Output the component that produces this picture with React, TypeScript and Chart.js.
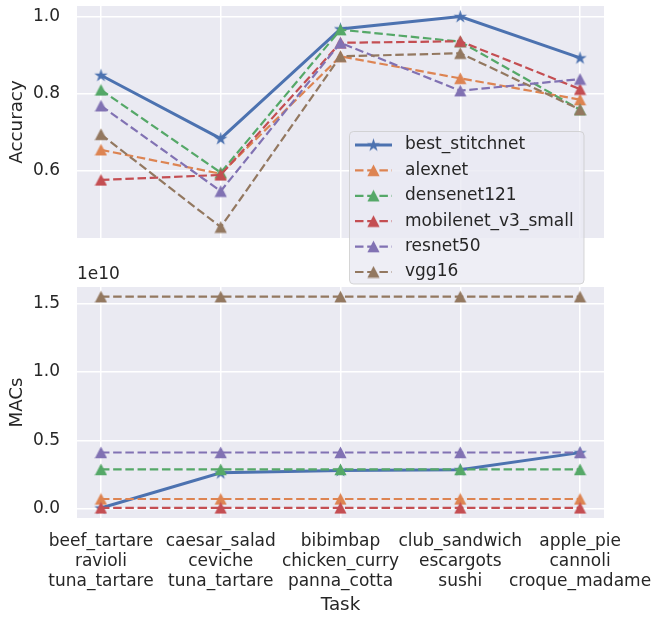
import React, { useEffect, useRef } from "react";
import { Chart, registerables } from "chart.js";

Chart.register(...registerables);

// ---------- data ----------
const seriesNames = ["best_stitchnet", "alexnet", "densenet121", "mobilenet_v3_small", "resnet50", "vgg16"];
const seriesColors = ["#4C72B0", "#DD8452", "#55A868", "#C44E52", "#8172B3", "#937860"];

const taskLabels = [
  ["beef_tartare", "ravioli", "tuna_tartare"],
  ["caesar_salad", "ceviche", "tuna_tartare"],
  ["bibimbap", "chicken_curry", "panna_cotta"],
  ["club_sandwich", "escargots", "sushi"],
  ["apple_pie", "cannoli", "croque_madame"],
];

const accBestStitchnet = [0.848, 0.684, 0.968, 1.0, 0.893];
const accAlexnet = [0.655, 0.593, 0.897, 0.840, 0.785];
const accDensenet121 = [0.810, 0.596, 0.966, 0.935, 0.759];
const accMobilenetV3Small = [0.577, 0.590, 0.932, 0.936, 0.812];
const accResnet50 = [0.769, 0.548, 0.932, 0.808, 0.838];
const accVgg16 = [0.695, 0.455, 0.897, 0.905, 0.759];

const macsBestStitchnet = [0.05e9, 2.62e9, 2.8e9, 2.85e9, 4.1e9];
const macsAlexnet = [0.71e9, 0.71e9, 0.71e9, 0.71e9, 0.71e9];
const macsDensenet121 = [2.87e9, 2.87e9, 2.87e9, 2.87e9, 2.87e9];
const macsMobilenetV3Small = [0.06e9, 0.06e9, 0.06e9, 0.06e9, 0.06e9];
const macsResnet50 = [4.11e9, 4.11e9, 4.11e9, 4.11e9, 4.11e9];
const macsVgg16 = [15.5e9, 15.5e9, 15.5e9, 15.5e9, 15.5e9];

const accTicks = [0.6, 0.8, 1.0];
const macsTicks = [0, 0.5e10, 1.0e10, 1.5e10];
const macsOffsetText = "1e10";

// ---------- style ----------
const FONT = "DejaVu Sans";
const TEXT = "#262626";
const BG = "#EAEAF2";

function makeTriangle(color: string) {
  const c = document.createElement("canvas");
  c.width = 13;
  c.height = 13;
  const g = c.getContext("2d")!;
  g.fillStyle = color;
  g.beginPath();
  g.moveTo(6.5, 0.6);
  g.lineTo(12.6, 12.2);
  g.lineTo(0.4, 12.2);
  g.closePath();
  g.fill();
  return c;
}

function makeStar(color: string) {
  const c = document.createElement("canvas");
  c.width = 15;
  c.height = 15;
  const g = c.getContext("2d")!;
  g.fillStyle = color;
  g.beginPath();
  const R = 7;
  const r = R * 0.382;
  for (let k = 0; k < 10; k++) {
    const a = -Math.PI / 2 + (k * Math.PI) / 5;
    const rad = k % 2 === 0 ? R : r;
    const x = 7.5 + Math.cos(a) * rad;
    const y = 7.8 + Math.sin(a) * rad;
    if (k === 0) g.moveTo(x, y);
    else g.lineTo(x, y);
  }
  g.closePath();
  g.fill();
  return c;
}

const bgPlugin = {
  id: "bgArea",
  beforeDraw(chart: any) {
    const { ctx, chartArea: a } = chart;
    ctx.save();
    ctx.fillStyle = BG;
    ctx.fillRect(a.left, a.top, a.right - a.left, a.bottom - a.top);
    ctx.restore();
  },
};

function zeroPadding(s: any) {
  s.paddingTop = 0;
  s.paddingBottom = 0;
  s.paddingLeft = 0;
  s.paddingRight = 0;
}

export default function App() {
  const topRef = useRef<HTMLCanvasElement>(null);
  const botRef = useRef<HTMLCanvasElement>(null);

  useEffect(() => {
    const markers = seriesColors.map((c, i) => (i === 0 ? makeStar(c) : makeTriangle(c)));
    const positions = taskLabels.map((_, i) => i);

    const makeDatasets = (series: number[][]) =>
      series.map((vals, i) => ({
        label: seriesNames[i],
        data: vals.map((y, x) => ({ x, y })),
        borderColor: seriesColors[i],
        backgroundColor: seriesColors[i],
        borderWidth: i === 0 ? 3 : 2.2,
        borderDash: i === 0 ? [] : [8.5, 3.7],
        pointStyle: markers[i],
        pointRadius: 6,
        pointBorderWidth: 0,
        tension: 0,
        order: series.length - i,
      }));

    const xScale = (showLabels: boolean) => ({
      type: "linear",
      min: -0.2,
      max: 4.2,
      afterBuildTicks: (s: any) => {
        s.ticks = positions.map((v) => ({ value: v }));
      },
      afterFit: (s: any) => {
        s.height = showLabels ? 99 : 0;
        zeroPadding(s);
      },
      grid: { color: "#ffffff", lineWidth: 1.5, drawTicks: false },
      border: { display: false },
      ticks: {
        display: showLabels,
        autoSkip: false,
        maxRotation: 0,
        padding: 14,
        color: TEXT,
        font: { family: FONT, size: 17, lineHeight: 20 / 17 },
        callback: (v: any) => taskLabels[Math.round(Number(v))],
      },
      title: {
        display: showLabels,
        text: "Task",
        color: TEXT,
        font: { family: FONT, size: 18.3 },
        padding: { top: 0, bottom: 1 },
      },
    });

    const yScale = (min: number, max: number, ticks: number[], fmt: (v: number) => string, title: string) => ({
      type: "linear",
      min,
      max,
      afterBuildTicks: (s: any) => {
        s.ticks = ticks.map((v) => ({ value: v }));
      },
      afterFit: (s: any) => {
        s.width = 77;
        zeroPadding(s);
      },
      grid: { color: "#ffffff", lineWidth: 1.5, drawTicks: false },
      border: { display: false },
      ticks: {
        padding: 17,
        color: TEXT,
        font: { family: FONT, size: 17 },
        callback: (v: any) => fmt(Number(v)),
      },
      title: {
        display: true,
        text: title,
        color: TEXT,
        font: { family: FONT, size: 18.3 },
        padding: { top: 6.5, bottom: 0 },
      },
    });

    const legendPlugin = {
      id: "customLegend",
      afterDraw(chart: any) {
        const ctx = chart.ctx;
        ctx.save();
        const bx = 349.5, by = 131.5, bw = 234.5, bh = 152.5, rr = 4;
        ctx.beginPath();
        ctx.moveTo(bx + rr, by);
        ctx.lineTo(bx + bw - rr, by);
        ctx.arcTo(bx + bw, by, bx + bw, by + rr, rr);
        ctx.lineTo(bx + bw, by + bh - rr);
        ctx.arcTo(bx + bw, by + bh, bx + bw - rr, by + bh, rr);
        ctx.lineTo(bx + rr, by + bh);
        ctx.arcTo(bx, by + bh, bx, by + bh - rr, rr);
        ctx.lineTo(bx, by + rr);
        ctx.arcTo(bx, by, bx + rr, by, rr);
        ctx.closePath();
        ctx.fillStyle = "rgba(234,234,242,0.8)";
        ctx.fill();
        ctx.strokeStyle = "rgba(204,204,204,0.8)";
        ctx.lineWidth = 1;
        ctx.stroke();

        seriesNames.forEach((name, i) => {
          const y = 145 + i * 25.4;
          ctx.beginPath();
          ctx.strokeStyle = seriesColors[i];
          ctx.lineWidth = i === 0 ? 3 : 2.2;
          ctx.setLineDash(i === 0 ? [] : [8.5, 3.7]);
          ctx.moveTo(355, y);
          ctx.lineTo(392, y);
          ctx.stroke();
          ctx.setLineDash([]);
          const m = markers[i];
          ctx.drawImage(m, 373.5 - m.width / 2, y - m.height / 2);
          ctx.fillStyle = TEXT;
          ctx.font = `17px "${FONT}"`;
          ctx.textAlign = "left";
          ctx.textBaseline = "middle";
          ctx.fillText(name, 405, y);
        });
        ctx.restore();
      },
    };

    const offsetTextPlugin = {
      id: "offsetText",
      afterDraw(chart: any) {
        const { ctx, chartArea } = chart;
        ctx.save();
        ctx.fillStyle = TEXT;
        ctx.font = `17px "${FONT}"`;
        ctx.textAlign = "left";
        ctx.textBaseline = "middle";
        ctx.fillText(macsOffsetText, chartArea.left, chartArea.top - 12);
        ctx.restore();
      },
    };

    const topChart = new Chart(topRef.current!, {
      type: "line",
      data: {
        datasets: makeDatasets([
          accBestStitchnet,
          accAlexnet,
          accDensenet121,
          accMobilenetV3Small,
          accResnet50,
          accVgg16,
        ]) as any,
      },
      options: {
        animation: false,
        responsive: false,
        maintainAspectRatio: false,
        layout: { padding: { top: 6, right: 50, bottom: 52, left: 0 } },
        plugins: { legend: { display: false }, tooltip: { enabled: false } },
        scales: {
          x: xScale(false) as any,
          y: yScale(0.4267, 1.0273, accTicks, (v) => v.toFixed(1), "Accuracy") as any,
        },
      },
      plugins: [bgPlugin, legendPlugin],
    });

    const botChart = new Chart(botRef.current!, {
      type: "line",
      data: {
        datasets: makeDatasets([
          macsBestStitchnet,
          macsAlexnet,
          macsDensenet121,
          macsMobilenetV3Small,
          macsResnet50,
          macsVgg16,
        ]) as any,
      },
      options: {
        animation: false,
        responsive: false,
        maintainAspectRatio: false,
        layout: { padding: { top: 37, right: 50, bottom: 0, left: 0 } },
        plugins: { legend: { display: false }, tooltip: { enabled: false } },
        scales: {
          x: xScale(true) as any,
          y: yScale(-0.068e10, 1.621e10, macsTicks, (v) => (v / 1e10).toFixed(1), "MACs") as any,
        },
      },
      plugins: [bgPlugin, offsetTextPlugin],
    });

    return () => {
      topChart.destroy();
      botChart.destroy();
    };
  }, []);

  return (
    <div style={{ position: "absolute", left: 0, top: 0, width: 654, height: 617, background: "#ffffff" }}>
      <canvas ref={botRef} width={654} height={367} style={{ position: "absolute", left: 0, top: 250 }} />
      <canvas ref={topRef} width={654} height={290} style={{ position: "absolute", left: 0, top: 0 }} />
    </div>
  );
}
